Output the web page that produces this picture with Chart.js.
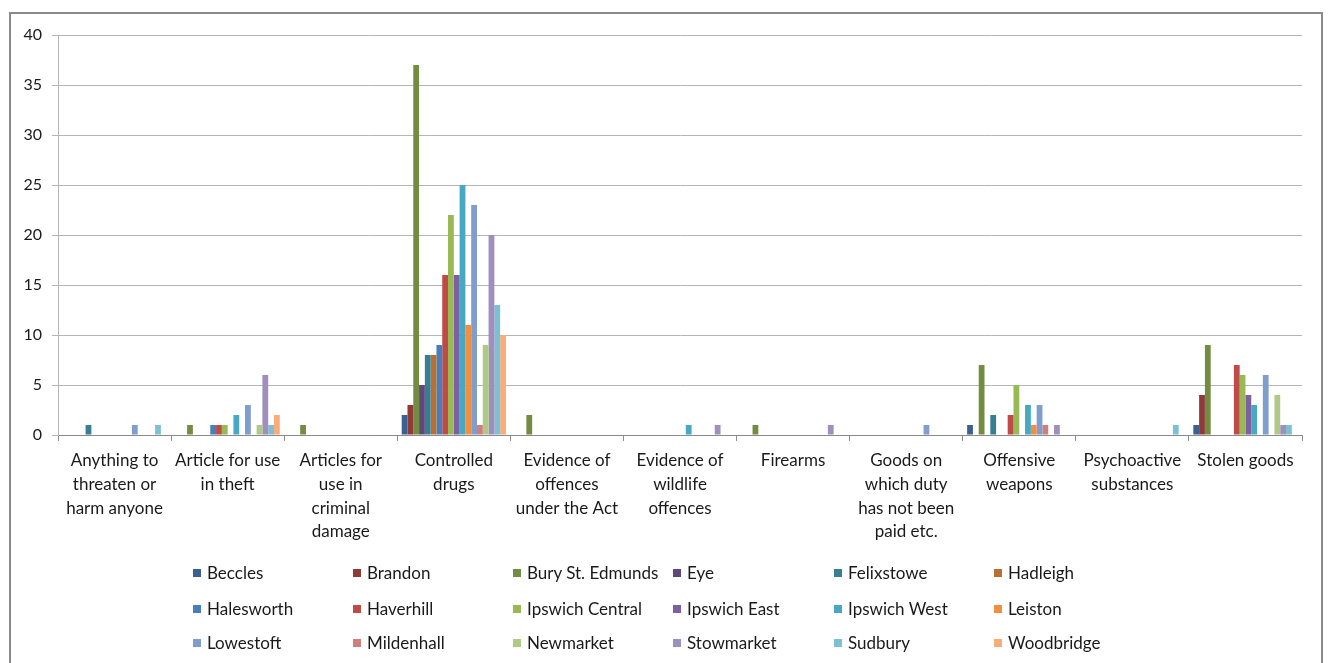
<!DOCTYPE html>
<html>
<head>
<meta charset="utf-8">
<script src="https://cdn.jsdelivr.net/npm/chart.js@4"></script>
<style>
  body { margin: 0; background: #fff; font-family: Lato, "Liberation Sans", sans-serif; }
  #wrap { position: relative; width: 1328px; height: 663px; overflow: hidden; }
  #frame { position: absolute; left: 9px; top: 12px; width: 1310px; height: 700px; border: 2px solid #8a8a8a; }
  #chartBox { position: absolute; left: 0; top: 0; width: 1328px; height: 663px; }
  .lg { position: absolute; font-size: 17px; color: #1a1a1a; line-height: 20px; white-space: nowrap; }
  .lg i { position: absolute; left: 0; top: 6px; width: 8px; height: 8px; }
  .lg span { position: absolute; left: 14px; top: 0; }
</style>
</head>
<body>
<div id="wrap">
  <div id="frame"></div>
  <div id="chartBox"><canvas id="stopChart"></canvas></div>
  <div id="legend"></div>
</div>
<script>
// Stop and search finds by station

const categories = [
  ["Anything to", "threaten or", "harm anyone"],
  ["Article for use", "in theft"],
  ["Articles for", "use in", "criminal", "damage"],
  ["Controlled", "drugs"],
  ["Evidence of", "offences", "under the Act"],
  ["Evidence of", "wildlife", "offences"],
  ["Firearms"],
  ["Goods on", "which duty", "has not been", "paid etc."],
  ["Offensive", "weapons"],
  ["Psychoactive", "substances"],
  ["Stolen goods"]
];

const yTicks = [0, 5, 10, 15, 20, 25, 30, 35, 40];

const beccles        = [0, 0, 0, 2, 0, 0, 0, 0, 1, 0, 1];
const brandon        = [0, 0, 0, 3, 0, 0, 0, 0, 0, 0, 4];
const buryStEdmunds  = [0, 1, 1, 37, 2, 0, 1, 0, 7, 0, 9];
const eye            = [0, 0, 0, 5, 0, 0, 0, 0, 0, 0, 0];
const felixstowe     = [1, 0, 0, 8, 0, 0, 0, 0, 2, 0, 0];
const hadleigh       = [0, 0, 0, 8, 0, 0, 0, 0, 0, 0, 0];
const halesworth     = [0, 1, 0, 9, 0, 0, 0, 0, 0, 0, 0];
const haverhill      = [0, 1, 0, 16, 0, 0, 0, 0, 2, 0, 7];
const ipswichCentral = [0, 1, 0, 22, 0, 0, 0, 0, 5, 0, 6];
const ipswichEast    = [0, 0, 0, 16, 0, 0, 0, 0, 0, 0, 4];
const ipswichWest    = [0, 2, 0, 25, 0, 1, 0, 0, 3, 0, 3];
const leiston        = [0, 0, 0, 11, 0, 0, 0, 0, 1, 0, 0];
const lowestoft      = [1, 3, 0, 23, 0, 0, 0, 1, 3, 0, 6];
const mildenhall     = [0, 0, 0, 1, 0, 0, 0, 0, 1, 0, 0];
const newmarket      = [0, 1, 0, 9, 0, 0, 0, 0, 0, 0, 4];
const stowmarket     = [0, 6, 0, 20, 0, 1, 1, 0, 1, 0, 1];
const sudbury        = [1, 1, 0, 13, 0, 0, 0, 0, 0, 1, 1];
const woodbridge     = [0, 2, 0, 10, 0, 0, 0, 0, 0, 0, 0];

const stations = [
  ["Beccles", beccles, "#3b6092"],
  ["Brandon", brandon, "#8f3a37"],
  ["Bury St. Edmunds", buryStEdmunds, "#748c41"],
  ["Eye", eye, "#5e4a79"],
  ["Felixstowe", felixstowe, "#367f93"],
  ["Hadleigh", hadleigh, "#b86f33"],
  ["Halesworth", halesworth, "#4a7ebb"],
  ["Haverhill", haverhill, "#be4b48"],
  ["Ipswich Central", ipswichCentral, "#98b954"],
  ["Ipswich East", ipswichEast, "#7d60a0"],
  ["Ipswich West", ipswichWest, "#46a8c3"],
  ["Leiston", leiston, "#f28e3f"],
  ["Lowestoft", lowestoft, "#7f9dcd"],
  ["Mildenhall", mildenhall, "#d07e7c"],
  ["Newmarket", newmarket, "#afca85"],
  ["Stowmarket", stowmarket, "#a08ebd"],
  ["Sudbury", sudbury, "#7dbfd3"],
  ["Woodbridge", woodbridge, "#f9ac78"]
];

const FONT = "Lato, 'Liberation Sans', sans-serif";

document.addEventListener("DOMContentLoaded", function () {
  buildChart();
  buildLegend();
});

function buildChart() {
  const ctx = document.getElementById("stopChart").getContext("2d");

  new Chart(ctx, {
    type: "bar",
    data: {
      labels: categories,
      datasets: stations.map(([name, values, color]) => ({
        label: name,
        data: values,
        backgroundColor: color,
        borderWidth: 0,
        categoryPercentage: 0.922,
        barPercentage: 1.0
      }))
    },
    options: {
      responsive: true,
      maintainAspectRatio: false,
      animation: false,
      layout: {
        padding: { top: 35, right: 26, bottom: 0, left: 0 }
      },
      plugins: {
        legend: { display: false },
        tooltip: { enabled: false }
      },
      scales: {
        x: {
          offset: true,
          afterFit: function (scale) {
            scale.height = 228;
          },
          grid: {
            offset: true,
            drawOnChartArea: false,
            tickLength: 6,
            color: "#8a8a8a"
          },
          border: { color: "#8a8a8a" },
          ticks: {
            autoSkip: false,
            maxRotation: 0,
            padding: 8,
            color: "#1a1a1a",
            font: { family: FONT, size: 17, lineHeight: 1.39 }
          }
        },
        y: {
          min: yTicks[0],
          max: yTicks[yTicks.length - 1],
          afterFit: function (scale) {
            scale.width = 58;
          },
          afterBuildTicks: function (scale) {
            scale.ticks = yTicks.map((v) => ({ value: v }));
          },
          grid: {
            tickLength: 6,
            color: "#b5b5b5"
          },
          border: { color: "#b5b5b5" },
          ticks: {
            padding: 10,
            color: "#1a1a1a",
            font: { family: FONT, size: 16 }
          }
        }
      }
    }
  });
}

function buildLegend() {
  const legend = document.getElementById("legend");
  const colLeft = [193, 353, 513, 673, 834, 994];
  const rowTop = [563, 599, 633];

  stations.forEach(([name, , color], i) => {
    const item = document.createElement("div");
    item.className = "lg";
    item.style.left = colLeft[i % 6] + "px";
    item.style.top = rowTop[Math.floor(i / 6)] + "px";
    item.innerHTML = `<i style="background:${color}"></i><span>${name}</span>`;
    legend.appendChild(item);
  });
}
</script>
</body>
</html>
